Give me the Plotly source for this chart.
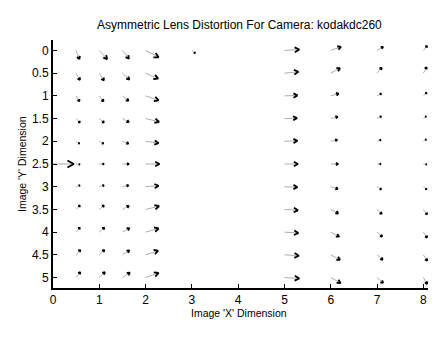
import plotly.graph_objects as go
from plotly.figure_factory._quiver import _Quiver

# Grid of measurement points (image coordinates)
XG = [0, 0.5, 1, 1.5, 2, 2.5, 3, 3.5, 4, 4.5, 5, 5.5, 6, 6.5, 7, 7.5, 8]
YG = [0, 0.5, 1, 1.5, 2, 2.5, 3, 3.5, 4, 4.5, 5]

# Distortion vectors (rows follow YG, columns follow XG)
U = [
    [0, 0.07, 0.17, 0.14, 0.28, 0, 0.07, 0, 0, 0, 0.32, 0, 0.22, 0, 0.13, 0, 0.08],
    [0, 0.08, 0.10, 0.15, 0.27, 0, 0, 0, 0, 0, 0.30, 0, 0.20, 0, 0.10, 0, 0.07],
    [0, 0.07, 0.09, 0.13, 0.28, 0, 0, 0, 0, 0, 0.28, 0, 0.17, 0, 0.09, 0, 0.07],
    [0, 0.08, 0.10, 0.14, 0.29, 0, 0, 0, 0, 0, 0.27, 0, 0.15, 0, 0.09, 0, 0.06],
    [0, 0.07, 0.09, 0.13, 0.28, 0, 0, 0, 0, 0, 0.28, 0, 0.14, 0, 0.08, 0, 0.06],
    [0.45, 0.08, 0.10, 0.14, 0.30, 0, 0, 0, 0, 0, 0.29, 0, 0.16, 0, 0.08, 0, 0.07],
    [0, 0.08, 0.10, 0.13, 0.28, 0, 0, 0, 0, 0, 0.28, 0, 0.15, 0, 0.09, 0, 0.07],
    [0, 0.08, 0.10, 0.14, 0.29, 0, 0, 0, 0, 0, 0.29, 0, 0.16, 0, 0.10, 0, 0.08],
    [0, 0.08, 0.11, 0.15, 0.28, 0, 0, 0, 0, 0, 0.30, 0, 0.18, 0, 0.11, 0, 0.08],
    [0, 0.09, 0.11, 0.15, 0.27, 0, 0, 0, 0, 0, 0.31, 0, 0.20, 0, 0.12, 0, 0.08],
    [0, 0.09, 0.12, 0.16, 0.28, 0, 0, 0, 0, 0, 0.32, 0, 0.21, 0, 0.13, 0, 0.08],
]
V = [
    [0, 0.19, 0.19, 0.18, 0.15, 0, 0.06, 0, 0, 0, -0.02, 0, -0.08, 0, -0.08, 0, -0.10],
    [0, 0.15, 0.16, 0.14, 0.12, 0, 0, 0, 0, 0, -0.03, 0, -0.11, 0, -0.12, 0, -0.13],
    [0, 0.12, 0.12, 0.11, 0.10, 0, 0, 0, 0, 0, -0.01, 0, -0.05, 0, -0.05, 0, -0.07],
    [0, 0.09, 0.09, 0.08, 0.07, 0, 0, 0, 0, 0, -0.01, 0, -0.04, 0, -0.05, 0, -0.05],
    [0, 0.05, 0.05, 0.05, 0.04, 0, 0, 0, 0, 0, -0.01, 0, -0.03, 0, -0.03, 0, -0.04],
    [0, 0.01, 0.00, 0.00, 0.00, 0, 0, 0, 0, 0, 0.00, 0, 0.00, 0, 0.00, 0, 0.01],
    [0, -0.03, -0.03, -0.03, -0.02, 0, 0, 0, 0, 0, 0.01, 0, 0.05, 0, 0.06, 0, 0.06],
    [0, -0.09, -0.09, -0.08, -0.07, 0, 0, 0, 0, 0, 0.02, 0, 0.09, 0, 0.10, 0, 0.11],
    [0, -0.10, -0.10, -0.09, -0.08, 0, 0, 0, 0, 0, 0.02, 0, 0.10, 0, 0.10, 0, 0.12],
    [0, -0.11, -0.11, -0.10, -0.09, 0, 0, 0, 0, 0, 0.02, 0, 0.11, 0, 0.11, 0, 0.13],
    [0, -0.12, -0.12, -0.11, -0.10, 0, 0, 0, 0, 0, 0.02, 0, 0.12, 0, 0.12, 0, 0.14],
]

X_TICKS = [0, 1, 2, 3, 4, 5, 6, 7, 8]
Y_TICKS = [0, 0.5, 1, 1.5, 2, 2.5, 3, 3.5, 4, 4.5, 5]
Y_TICK_TEXT = ["0", "0.5", "1", "1.5", "2", "2.5", "3", "3.5", "4", "4.5", "5"]

TITLE = "Asymmetric Lens Distortion For Camera: kodakdc260"
X_LABEL = "Image 'X' Dimension"
Y_LABEL = "Image 'Y' Dimension"

xs, ys, us, vs = [], [], [], []
for i, yv in enumerate(YG):
    for j, xv in enumerate(XG):
        if U[i][j] == 0 and V[i][j] == 0:
            continue  # no visible vector at this grid point
        xs.append(xv)
        ys.append(yv)
        us.append(U[i][j])
        vs.append(V[i][j])

q = _Quiver(xs, ys, us, vs, 1, 0.35, 0.5)
barb_x, barb_y = q.get_barbs()
head_x, head_y = q.get_quiver_arrows()

fig = go.Figure()
fig.add_trace(go.Scatter(x=barb_x, y=barb_y, mode="lines",
                         line=dict(color="#9a9a9a", width=0.8),
                         hoverinfo="skip", showlegend=False))
fig.add_trace(go.Scatter(x=head_x, y=head_y, mode="lines",
                         line=dict(color="black", width=1.8),
                         hoverinfo="skip", showlegend=False))

font_family = "Liberation Sans, Arial, sans-serif"
PW = 375  # plot width in px
PH = 248  # plot height in px

# The page body adds an 8px offset, so the figure is sized to fit the window.
fig.update_layout(
    width=430,
    height=330,
    margin=dict(l=45, r=10, t=32, b=50),
    paper_bgcolor="white",
    plot_bgcolor="white",
    showlegend=False,
    annotations=[
        dict(text=TITLE, xref="paper", yref="paper", x=186 / PW, y=1 + 15 / PH,
             xanchor="center", yanchor="middle", showarrow=False,
             font=dict(family=font_family, size=12, color="black")),
        dict(text=X_LABEL, xref="paper", yref="paper", x=186 / PW, y=-25 / PH,
             xanchor="center", yanchor="middle", showarrow=False,
             font=dict(family=font_family, size=10.5, color="black")),
        dict(text=Y_LABEL, xref="paper", yref="paper", x=-31 / PW, y=0.5,
             xanchor="center", yanchor="middle", showarrow=False, textangle=-90,
             font=dict(family=font_family, size=10.5, color="black")),
    ],
)

fig.update_xaxes(
    range=[0, 8.1], automargin=False,
    tickvals=X_TICKS,
    ticks="inside", ticklen=4, tickwidth=1, tickcolor="black",
    showline=True, linecolor="black", linewidth=2, mirror=False,
    showgrid=False, zeroline=False,
    tickfont=dict(family=font_family, size=12, color="black"),
)
fig.update_yaxes(
    range=[5.23, -0.23], automargin=False,
    tickvals=Y_TICKS, ticktext=Y_TICK_TEXT,
    ticks="inside", ticklen=4, tickwidth=1, tickcolor="black",
    showline=True, linecolor="black", linewidth=2, mirror=False,
    showgrid=False, zeroline=False,
    tickfont=dict(family=font_family, size=12, color="black"),
)

fig.write_html("out.html")
